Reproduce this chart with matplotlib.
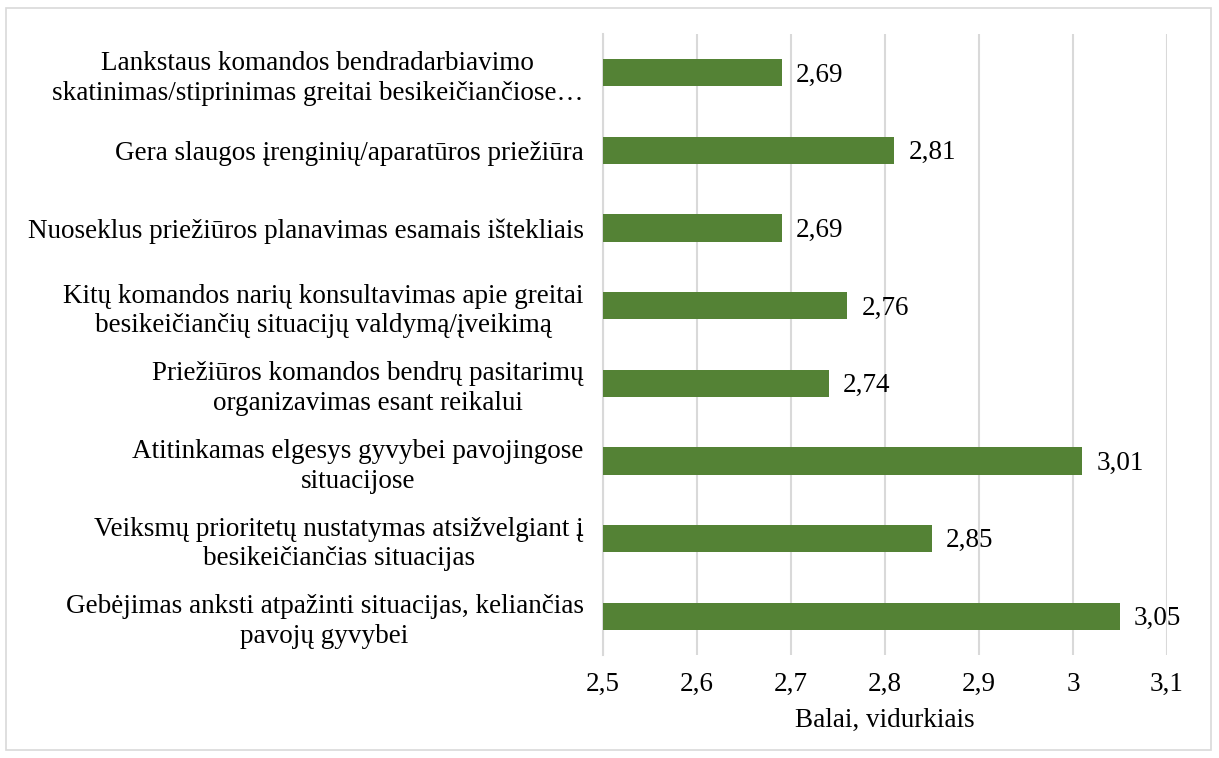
import matplotlib
matplotlib.use("Agg")
import matplotlib.pyplot as plt
from matplotlib.patches import Rectangle

categories = [
    "Lankstaus komandos bendradarbiavimo\nskatinimas/stiprinimas greitai besikeičiančiose…",
    "Gera slaugos įrenginių/aparatūros priežiūra",
    "Nuoseklus priežiūros planavimas esamais ištekliais",
    "Kitų komandos narių konsultavimas apie greitai\nbesikeičiančių situacijų valdymą/įveikimą",
    "Priežiūros komandos bendrų pasitarimų\norganizavimas esant reikalui",
    "Atitinkamas elgesys gyvybei pavojingose\nsituacijose",
    "Veiksmų prioritetų nustatymas atsižvelgiant į\nbesikeičiančias situacijas",
    "Gebėjimas anksti atpažinti situacijas, keliančias\npavojų gyvybei",
]
values = [2.69, 2.81, 2.69, 2.76, 2.74, 3.01, 2.85, 3.05]
xticks = [2.5, 2.6, 2.7, 2.8, 2.9, 3.0, 3.1]
xtick_labels = ["2,5", "2,6", "2,7", "2,8", "2,9", "3", "3,1"]
xlabel = "Balai, vidurkiais"

plt.rcParams['font.family'] = ['Liberation Serif', 'DejaVu Serif']
FS = 19.5

fig = plt.figure(figsize=(12.19, 7.58), dpi=100)
ax = fig.add_axes([0.4947, 0.1359, 0.9573 - 0.4947, 0.9551 - 0.1359])

n = len(categories)
ypos = list(range(n - 1, -1, -1))
bar_color = "#548235"
ax.barh(ypos, [v - 2.5 for v in values], left=2.5, height=0.35, color=bar_color, zorder=3)

for y, v in zip(ypos, values):
    ax.text(v + 0.015, y - 0.03, f"{v:.2f}".replace(".", ","), va="center", ha="left",
            fontsize=FS, color="#000000")

ax.set_xlim(2.5, 3.1)
ax.set_ylim(-0.5, n - 0.5)
ax.set_xticks(xticks)
ax.set_xticklabels(xtick_labels, fontsize=FS)
ax.set_yticks(ypos)
ax.set_yticklabels(categories, fontsize=FS, multialignment="center", linespacing=1.25)
ax.tick_params(axis="both", length=0)
ax.tick_params(axis="y", pad=14)
ax.tick_params(axis="x", pad=12)
ax.set_xlabel(xlabel, fontsize=FS, labelpad=8)

ax.grid(axis="x", color="#d9d9d9", linewidth=1.5, zorder=0)
for s in ["top", "right", "bottom"]:
    ax.spines[s].set_visible(False)
ax.spines["left"].set_color("#d9d9d9")
ax.spines["left"].set_linewidth(1.5)

fig.patches.append(Rectangle((6 / 1219, 8 / 758), 1 - 14 / 1219, 1 - 16 / 758,
                             transform=fig.transFigure, fill=False,
                             edgecolor="#d9d9d9", linewidth=1.2))

fig.savefig("out.png", dpi=100, facecolor="white")
